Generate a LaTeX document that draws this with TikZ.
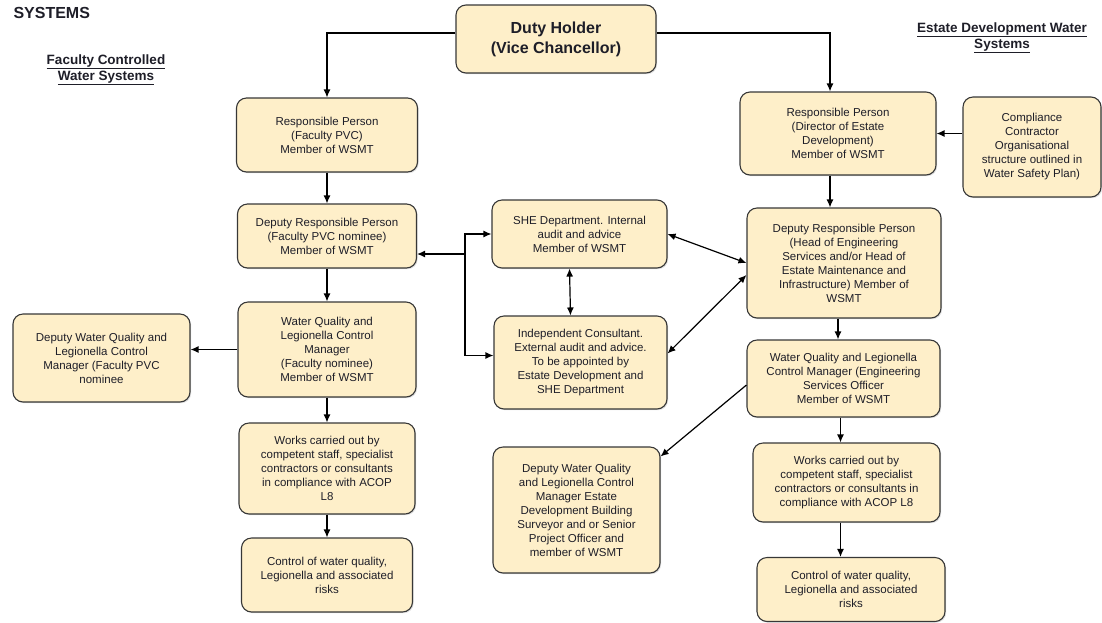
\documentclass[tikz,border=0pt]{standalone}
\usepackage{fontspec}
\setmainfont{Liberation Sans}
\usepackage{xcolor}
\usetikzlibrary{shapes,arrows,arrows.meta,positioning,shadows}
\definecolor{boxfill}{RGB}{254,239,201}
\definecolor{boxline}{RGB}{55,55,55}
\definecolor{inktext}{RGB}{30,30,40}

\begin{document}
\begin{tikzpicture}[
    x=1pt, y=-1pt,
    box/.style = {draw=boxline, fill=boxfill, line width=1.1pt, rounded corners=10pt,
      align=center, inner sep=2pt, text=inktext,
      font=\fontsize{11.5}{14}\selectfont,
      drop shadow={shadow xshift=1.2pt, shadow yshift=-1.2pt, opacity=.25}},
    head/.style = {align=center, text=inktext, font=\bfseries\fontsize{13.5}{16}\selectfont},
    link/.style = {line width=1.2pt},
    >={Latex[length=8pt,width=7pt]}
  ]
  \useasboundingbox (0,0) rectangle (1102,622);

  % titles
  \node[anchor=west, text=inktext, font=\bfseries\fontsize{16}{18}\selectfont] (sys) at (10,13) {SYSTEMS};
  \node[head] (faculty) at (106,70) {\underline{Faculty Controlled}\\\underline{Water Systems}};
  \node[head] (estate) at (1002,38) {\underline{Estate Development Water}\\\underline{Systems}};

  % top
  \node[box, minimum width=200pt, minimum height=68pt, font=\bfseries\fontsize{16}{20}\selectfont] (dh) at (556,39)
    {Duty Holder\\(Vice Chancellor)};

  % faculty side
  \node[box, minimum width=181pt, minimum height=74pt] (rpf) at (327,135)
    {Responsible Person\\(Faculty PVC)\\Member of WSMT};
  \node[box, minimum width=179pt, minimum height=64pt] (drpf) at (327,236)
    {Deputy Responsible Person\\(Faculty PVC nominee)\\Member of WSMT};
  \node[box, minimum width=178pt, minimum height=95pt] (wqf) at (327,349.5)
    {Water Quality and\\Legionella Control\\Manager\\(Faculty nominee)\\Member of WSMT};
  \node[box, minimum width=177pt, minimum height=88pt] (dwqf) at (101.5,358)
    {Deputy Water Quality and\\Legionella Control\\Manager (Faculty PVC\\nominee};
  \node[box, minimum width=176pt, minimum height=91pt] (wkf) at (327,468.5)
    {Works carried out by\\competent staff, specialist\\contractors or consultants\\in compliance with ACOP\\L8};
  \node[box, minimum width=171pt, minimum height=74pt] (ctlf) at (327,575)
    {Control of water quality,\\Legionella and associated\\risks};

  % audit
  \node[box, minimum width=175pt, minimum height=68pt] (she) at (579.5,234)
    {SHE Department. Internal\\audit and advice\\Member of WSMT};
  \node[box, minimum width=173pt, minimum height=93pt] (ic) at (580.5,362.5)
    {Independent Consultant.\\External audit and advice.\\To be appointed by\\Estate Development and\\SHE Department};

  % estate side
  \node[box, minimum width=196pt, minimum height=83pt] (rpe) at (838,133.5)
    {Responsible Person\\(Director of Estate\\Development)\\Member of WSMT};
  \node[box, minimum width=138pt, minimum height=100pt] (comp) at (1032,147)
    {Compliance\\Contractor\\Organisational\\structure outlined in\\Water Safety Plan)};
  \node[box, minimum width=194pt, minimum height=110pt] (drpe) at (844,263)
    {Deputy Responsible Person\\(Head of Engineering\\Services and/or Head of\\Estate Maintenance and\\Infrastructure) Member of\\WSMT};
  \node[box, minimum width=193pt, minimum height=77pt] (wqe) at (843.5,378.5)
    {Water Quality and Legionella\\Control Manager (Engineering\\Services Officer\\Member of WSMT};
  \node[box, minimum width=167pt, minimum height=126pt] (dwqe) at (576.5,510)
    {Deputy Water Quality\\and Legionella Control\\Manager Estate\\Development Building\\Surveyor and or Senior\\Project Officer and\\member of WSMT};
  \node[box, minimum width=187pt, minimum height=79pt] (wke) at (846.5,482.5)
    {Works carried out by\\competent staff, specialist\\contractors or consultants in\\compliance with ACOP L8};
  \node[box, minimum width=188pt, minimum height=64pt] (ctle) at (851,589.5)
    {Control of water quality,\\Legionella and associated\\risks};

  % connectors
  \coordinate (br) at (465,254);
  \draw[link,->] ([yshift=6pt]dh.west) -| (rpf.north);
  \draw[link,->] ([yshift=6pt]dh.east) -| ([xshift=-8pt]rpe.north);
  \draw[link,->] (rpf) -- (drpf);
  \draw[link,->] (drpf) -- (wqf);
  \draw[link,->] (wqf) -- (wkf);
  \draw[link,->] (wkf) -- (ctlf);
  \draw[link,->] (wqf.west) -- (wqf.west -| dwqf.east);
  \draw[link,->] (br) -- (br -| drpf.east);
  \draw[link,<->] (she.west) -| ([yshift=7pt]ic.west -| br) -- ([yshift=7pt]ic.west);
  \draw[link,<->] ([xshift=-10pt]she.south) -- ([xshift=-10pt]ic.north);
  \draw[link,<->] (she.east) -- (drpe.west);
  \draw[link,<->] ([yshift=9pt]ic.east) -- ([yshift=-12pt]drpe.west);
  \draw[link,->] (comp.west |- rpe.east) -- (rpe.east);
  \draw[link,->] ([xshift=-8pt]rpe.south) -- ([xshift=-8pt]rpe.south |- drpe.north);
  \draw[link,->] ([xshift=-6pt]drpe.south) -- ([xshift=-6pt]drpe.south |- wqe.north);
  \draw[link,->] ([xshift=-3pt]wqe.south) -- ([xshift=-3pt]wqe.south |- wke.north);
  \draw[link,->] ([xshift=-6pt]wke.south) -- ([xshift=-6pt]wke.south |- ctle.north);
  \draw[link,->] ([yshift=-6.5pt]wqe.west) -- ([yshift=-10pt]dwqe.north east);
\end{tikzpicture}
\end{document}
